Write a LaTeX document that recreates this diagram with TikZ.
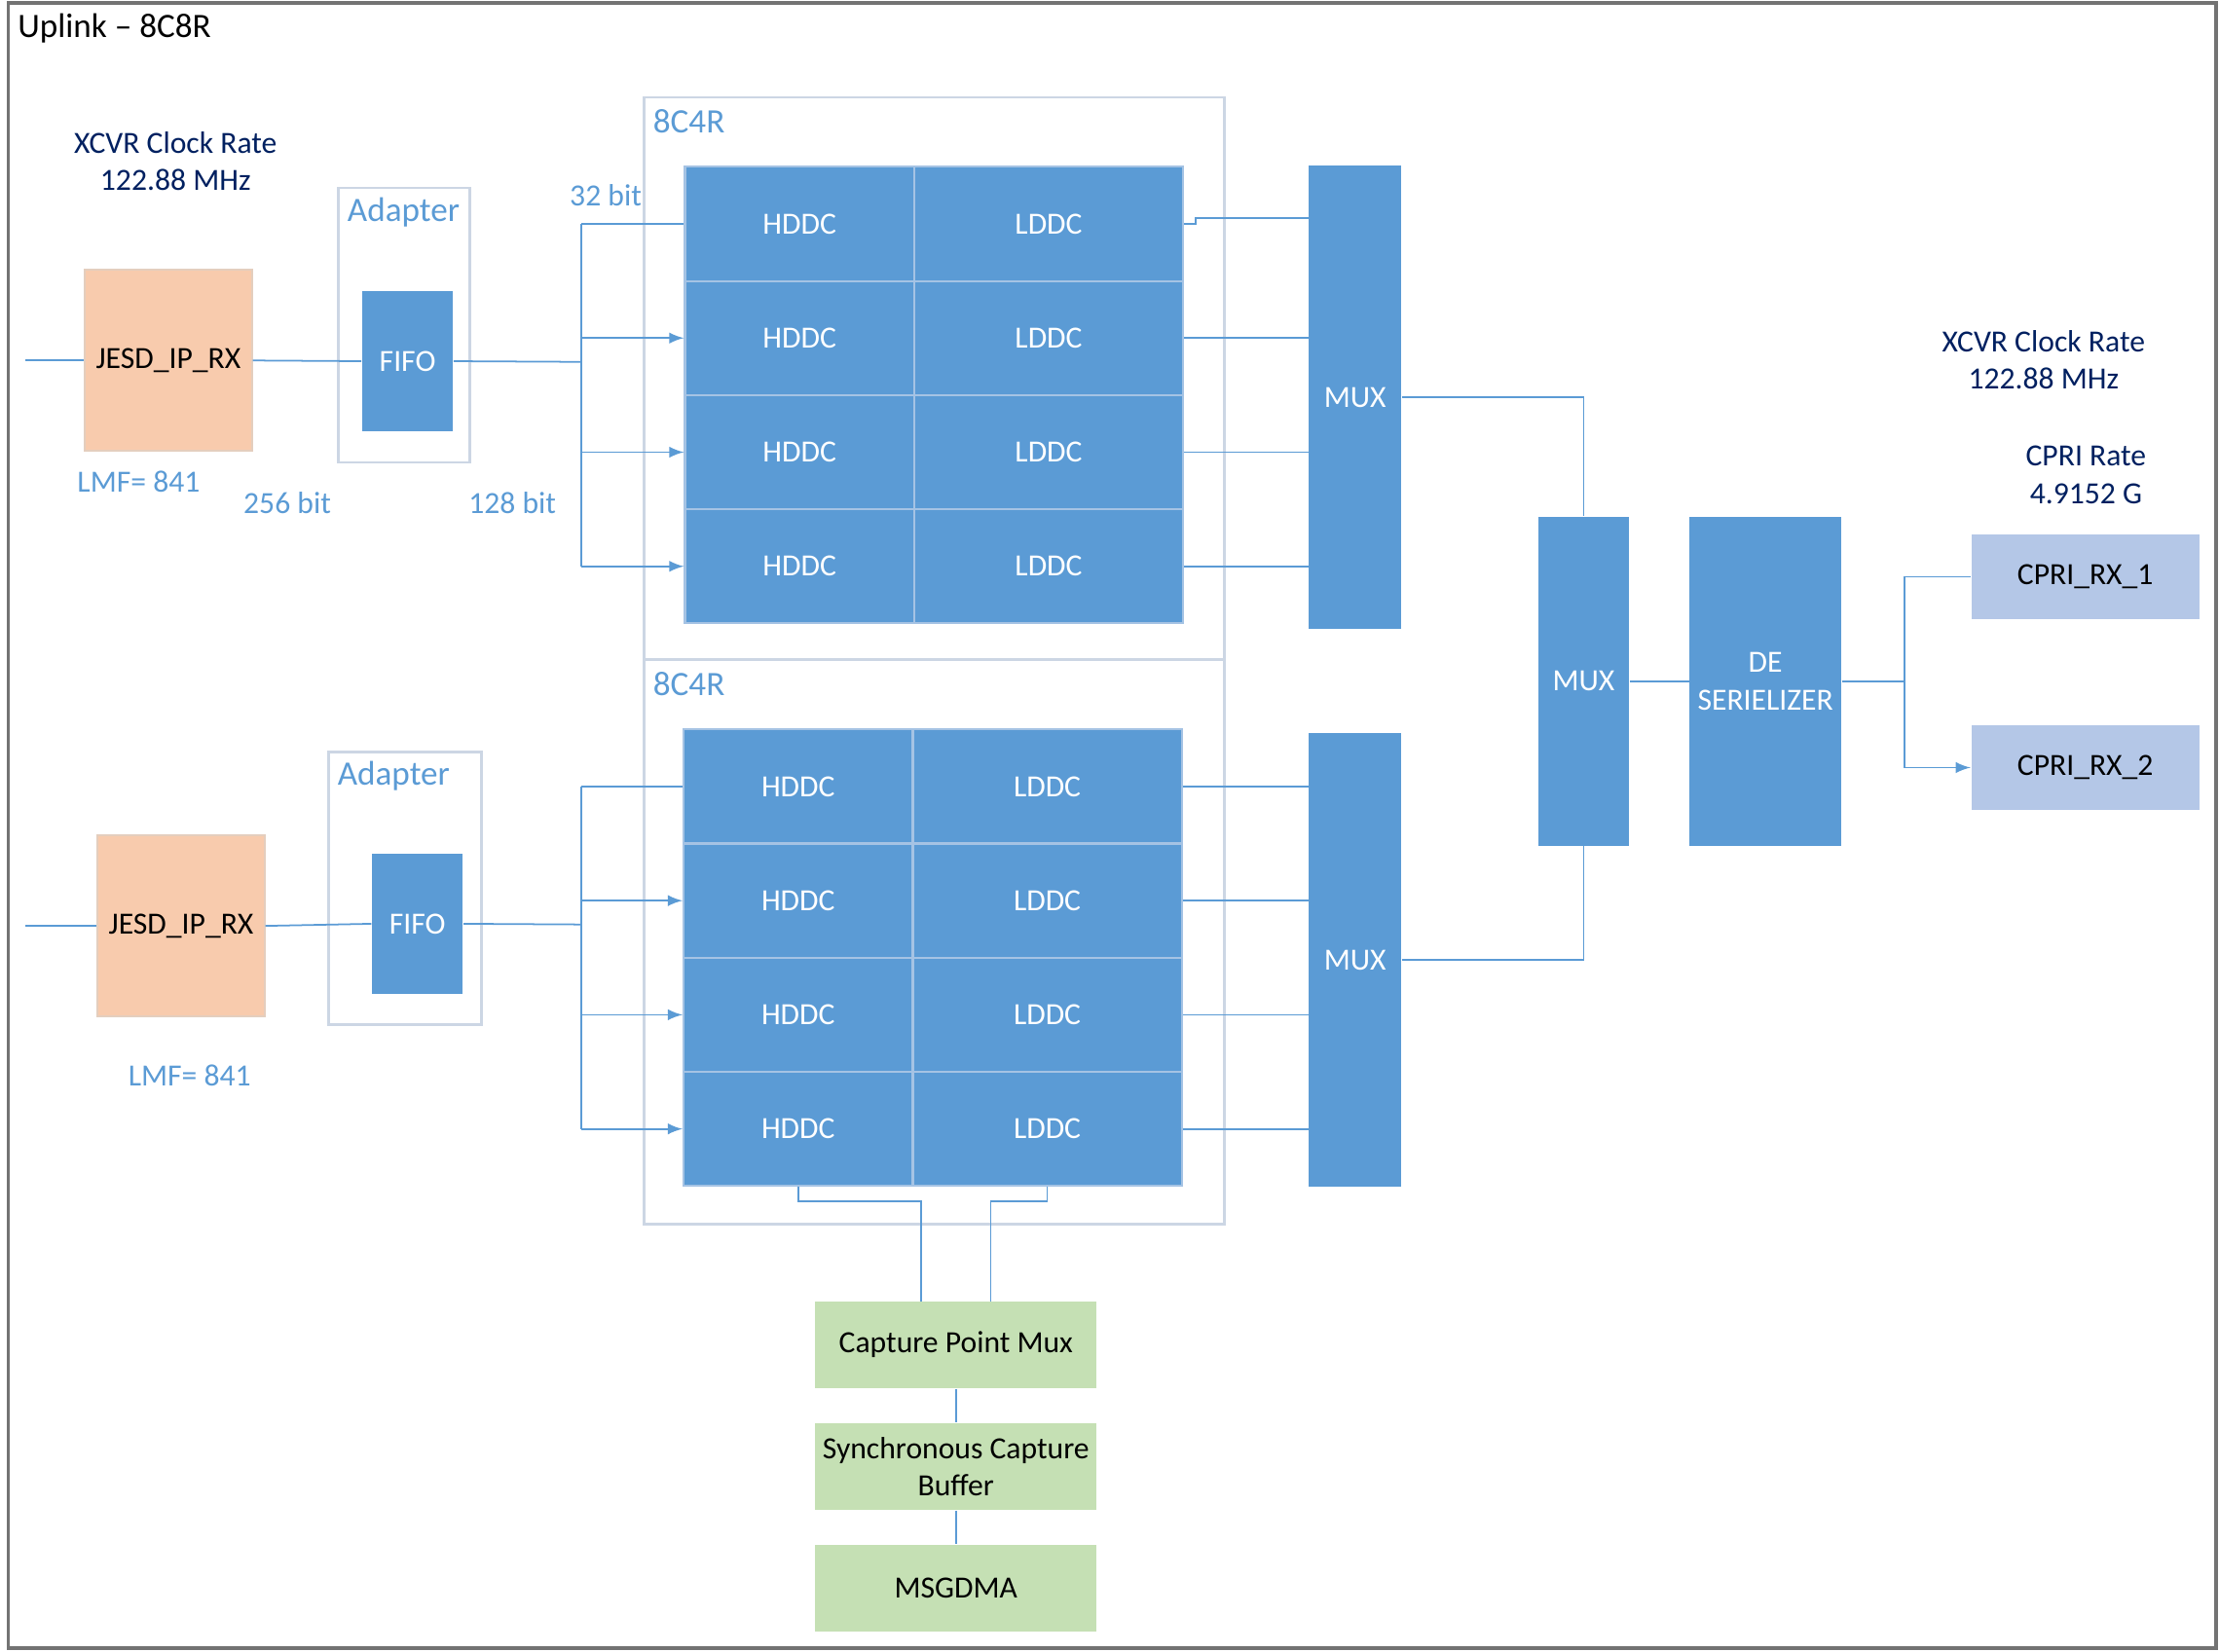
\documentclass[tikz,border=0pt]{standalone}
\usepackage{fontspec}
\setmainfont{Carlito}
\usetikzlibrary{arrows}
\newlength\pu
\setlength\pu{0.14534mm}
\definecolor{blk}{RGB}{91,155,213}
\definecolor{zellrand}{RGB}{165,195,228}
\definecolor{rahmen}{RGB}{204,214,228}
\definecolor{navy}{RGB}{0,32,96}
\definecolor{pfirsich}{RGB}{248,203,173}
\definecolor{cpri}{RGB}{180,199,231}
\definecolor{gruen}{RGB}{197,224,180}
\begin{document}
\begin{tikzpicture}[x=0.14534mm,y=-0.14521mm,line width=0.5pt,>=latex,
	klein/.style={font=\fontsize{9}{11}\selectfont,align=center,inner sep=0pt},
	gross/.style={font=\fontsize{10}{12}\selectfont,inner sep=0pt},
	blau/.style={klein,fill=blk,text=white},
	zelle/.style={blau,draw=zellrand,line width=0.6pt,minimum height=80.75*\pu},
	kasten/.style={klein,minimum width=#1*\pu},
	rahmenbox/.style={draw=rahmen,line width=0.8pt,fill=white,inner sep=0pt},
	linie/.style={draw=blk,line width=0.5pt}]
			\useasboundingbox (0,0) rectangle (1568,1168);
			%%Rahmen
			\draw[line width=1pt,draw=black!55] (6,2) rectangle (1566,1166);
			\node[gross,anchor=west] (titel) at (12,20) {Uplink -- 8C8R};

			%%Eingang oben
			\node[klein,text=navy] (takt1) at (124,114) {XCVR Clock Rate\\122.88 MHz};
			\node[klein,fill=pfirsich,draw=pfirsich!85!black!60,minimum width=118*\pu,minimum height=128*\pu] (jesd1) at (119,255) {JESD\_IP\_RX};
			\node[klein,text=blk] (lmf1) at (98,341) {LMF= 841};
			\node[rahmenbox,minimum width=93*\pu,minimum height=194*\pu] (ad1) at (285.5,230) {};
			\node[gross,text=blk,anchor=west] (adlab1) at (245,150) {Adapter};
			\node[blau,minimum width=64*\pu,minimum height=99*\pu] (fifo1) at (288,255.5) {FIFO};
			\node[klein,text=blk] (bit256) at (203,356) {256 bit};
			\node[klein,text=blk] (bit128) at (362,356) {128 bit};
			\node[klein,text=blk] (bit32) at (428,138) {32 bit};

			%%Eingang unten
			\node[klein,fill=pfirsich,draw=pfirsich!85!black!60,minimum width=118*\pu,minimum height=128*\pu] (jesd2) at (128,655) {JESD\_IP\_RX};
			\node[klein,text=blk] (lmf2) at (134,761) {LMF= 841};
			\node[rahmenbox,minimum width=108*\pu,minimum height=193*\pu] (ad2) at (286,628.5) {};
			\node[gross,text=blk,anchor=west] (adlab2) at (238,549) {Adapter};
			\node[blau,minimum width=64*\pu,minimum height=99*\pu] (fifo2) at (295,653.5) {FIFO};

			%%8C4R Bloecke
			\node[rahmenbox,minimum width=410*\pu,minimum height=398*\pu] (blockA) at (660,268) {};
			\node[rahmenbox,minimum width=410*\pu,minimum height=399*\pu] (blockB) at (660,666.5) {};
			\node[gross,text=blk,anchor=west] (labA) at (461,86) {8C4R};
			\node[gross,text=blk,anchor=west] (labB) at (461,484) {8C4R};
			\foreach \r in {1,...,4} {
				\node[zelle,minimum width=162*\pu] (h1-\r) at (565,77.625+80.75*\r) {HDDC};
				\node[zelle,minimum width=190*\pu] (l1-\r) at (741,77.625+80.75*\r) {LDDC};
				\node[zelle,minimum width=162*\pu] (h2-\r) at (564,475.625+80.75*\r) {HDDC};
				\node[zelle,minimum width=190*\pu] (l2-\r) at (740,475.625+80.75*\r) {LDDC};
			}

			%%MUX und Deserializer
			\node[blau,minimum width=65*\pu,minimum height=328*\pu] (mux1) at (957.5,281) {MUX};
			\node[blau,minimum width=65*\pu,minimum height=320*\pu] (mux2) at (957.5,679) {MUX};
			\node[blau,minimum width=64*\pu,minimum height=232*\pu] (mux3) at (1119,482) {MUX};
			\node[blau,minimum width=107*\pu,minimum height=232*\pu] (deser) at (1247.5,482) {DE\\SERIELIZER};

			%%Ausgang
			\node[klein,text=navy] (takt2) at (1444,254.5) {XCVR Clock Rate\\122.88 MHz};
			\node[klein,text=navy] (rate) at (1474,336) {CPRI Rate\\4.9152 G};
			\node[klein,fill=cpri,minimum width=161*\pu,minimum height=60*\pu] (cpri1) at (1473.5,408) {CPRI\_RX\_1};
			\node[klein,fill=cpri,minimum width=161*\pu,minimum height=60*\pu] (cpri2) at (1473.5,543) {CPRI\_RX\_2};

			%%Capture
			\node[kasten=199,fill=gruen,minimum height=61*\pu] (cap) at (675.5,951.5) {Capture Point Mux};
			\node[kasten=199,fill=gruen,minimum height=61*\pu] (sync) at (675.5,1037.5) {Synchronous Capture\\Buffer};
			\node[kasten=199,fill=gruen,minimum height=61*\pu] (dma) at (675.5,1123.5) {MSGDMA};

			%%Verbindungen
			\coordinate (in1) at (18,255);
			\coordinate (in2) at (18,655);
			\coordinate (ab1) at (411,256);
			\coordinate (ab2) at (411,654);
			\coordinate (ab3) at (1346,482);
			\coordinate (knick) at (845,154);
			\coordinate (capin1) at (651,921);
			\coordinate (capin2) at (700,921);
			\draw[linie] (in1) -- (jesd1.west);
			\draw[linie] (in2) -- (jesd2.west);
			\draw[linie] (jesd1.east) -- (fifo1.west);
			\draw[linie] (jesd2.east) -- (fifo2.west);
			\draw[linie] (fifo1.east) -- (ab1);
			\draw[linie] (fifo2.east) -- (ab2);
			\draw[linie] (ab1 |- h1-1.west) -- (ab1 |- h1-4.west);
			\draw[linie] (ab2 |- h2-1.west) -- (ab2 |- h2-4.west);
			\draw[linie] (ab1 |- h1-1.west) -- (h1-1.west);
			\draw[linie] (ab2 |- h2-1.west) -- (h2-1.west);
			\foreach \r in {2,3,4} {
				\draw[linie,->] (ab1 |- h1-\r.west) -- (h1-\r.west);
				\draw[linie,->] (ab2 |- h2-\r.west) -- (h2-\r.west);
			}
			\draw[linie] (l1-1.east) -| (knick) -- (knick -| mux1.west);
			\foreach \r in {2,3,4}
				\draw[linie] (l1-\r.east) -- (l1-\r.east -| mux1.west);
			\foreach \r in {1,...,4}
				\draw[linie] (l2-\r.east) -- (l2-\r.east -| mux2.west);
			\draw[linie] (mux1.east) -| (mux3.north);
			\draw[linie] (mux2.east) -| (mux3.south);
			\draw[linie] (mux3.east) -- (deser.west);
			\draw[linie] (deser.east) -- (ab3);
			\draw[linie] (ab3) |- (cpri1.west);
			\draw[linie,->] (ab3) |- (cpri2.west);
			\draw[linie] (h2-4.south) -- ++(0,10) -| (capin1);
			\draw[linie] (l2-4.south) -- ++(0,10) -| (capin2);
			\draw[linie] (cap.south) -- (sync.north);
			\draw[linie] (sync.south) -- (dma.north);
\end{tikzpicture}
\end{document}
